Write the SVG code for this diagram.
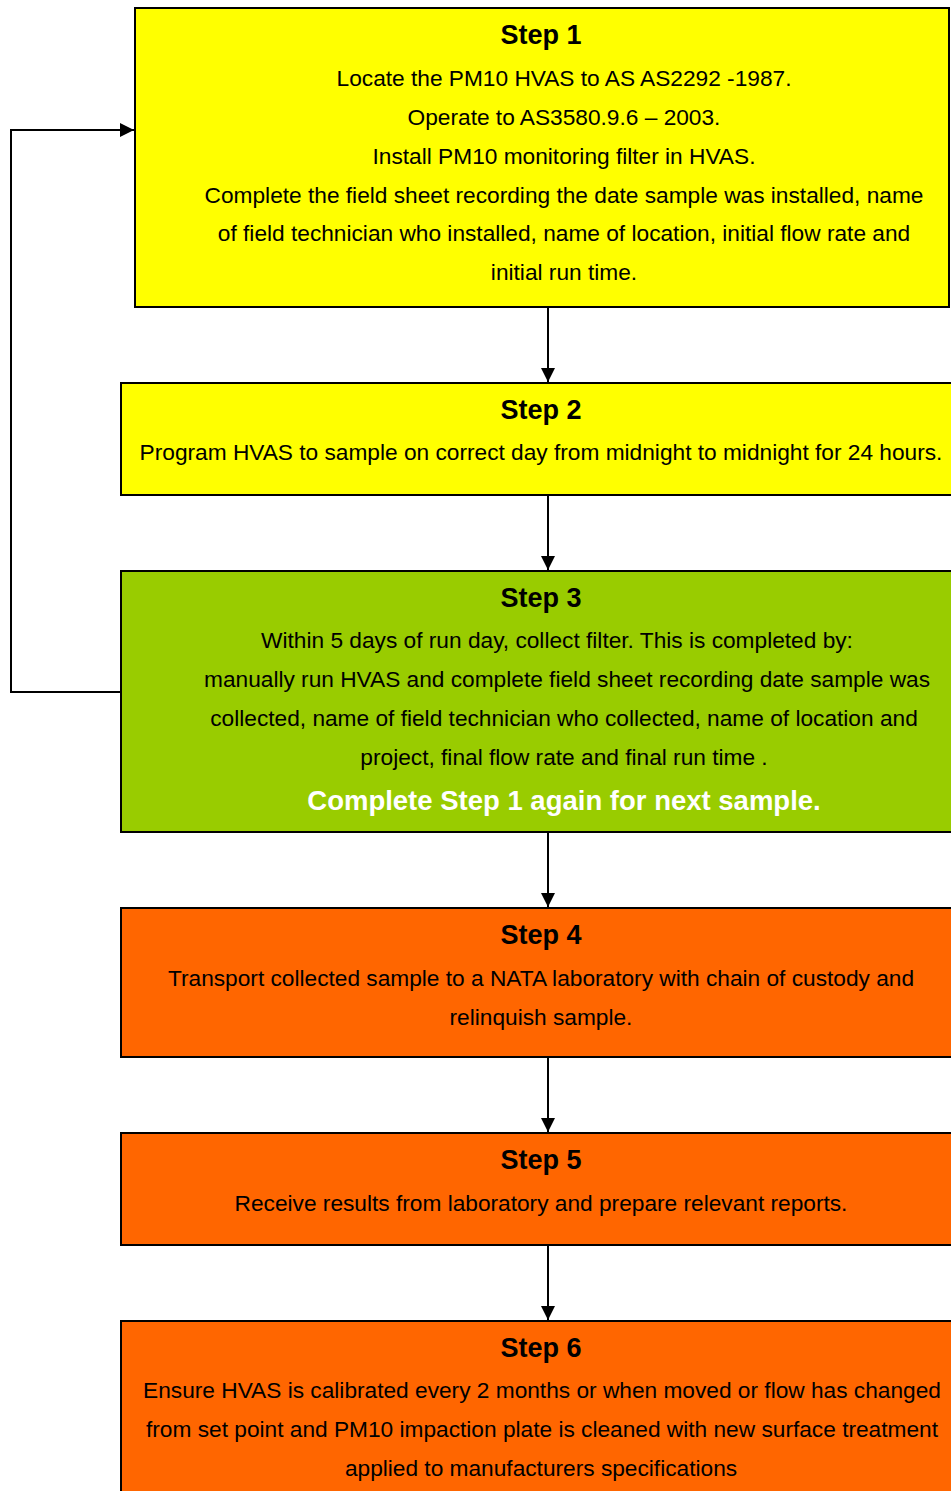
<svg xmlns="http://www.w3.org/2000/svg" width="951" height="1491" viewBox="0 0 951 1491">
<defs>
<marker id="ah" viewBox="0 0 14 14" refX="14" refY="7" markerWidth="14" markerHeight="14" markerUnits="userSpaceOnUse" orient="auto">
<path d="M0,0 L14,7 L0,14 Z" fill="#000"/>
</marker>
<style>
.box{stroke:#000;stroke-width:2}
.y{fill:#FFFF00}.g{fill:#99CC00}.o{fill:#FF6600}
.t{font-family:"Liberation Sans",Arial,sans-serif;font-size:27px;font-weight:bold;fill:#000;text-anchor:middle}
.b{font-family:"Liberation Sans",Arial,sans-serif;font-size:22.7px;fill:#000;text-anchor:middle}
.w{font-family:"Liberation Sans",Arial,sans-serif;font-size:27.5px;font-weight:bold;fill:#fff;text-anchor:middle}
.c{fill:none;stroke:#000;stroke-width:2}
</style>
</defs>
<rect width="951" height="1491" fill="#fff"/>
<g id="connectors">
<line class="c" x1="548" y1="308" x2="548" y2="382" marker-end="url(#ah)"/>
<line class="c" x1="548" y1="496" x2="548" y2="570" marker-end="url(#ah)"/>
<line class="c" x1="548" y1="833" x2="548" y2="907" marker-end="url(#ah)"/>
<line class="c" x1="548" y1="1058" x2="548" y2="1132" marker-end="url(#ah)"/>
<line class="c" x1="548" y1="1246" x2="548" y2="1320" marker-end="url(#ah)"/>
<polyline class="c" points="121,692 11,692 11,130 134,130" marker-end="url(#ah)"/>
</g>
<g id="step1">
<rect class="box y" x="135" y="8" width="814" height="299"/>
<text class="t" x="541" y="44">Step 1</text>
<text class="b" x="564" y="86">Locate the PM10 HVAS to AS AS2292 -1987.</text>
<text class="b" x="564" y="125">Operate to AS3580.9.6 – 2003.</text>
<text class="b" x="564" y="164">Install PM10 monitoring filter in HVAS.</text>
<text class="b" x="564" y="203">Complete the field sheet recording the date sample was installed, name</text>
<text class="b" x="564" y="241">of field technician who installed, name of location, initial flow rate and</text>
<text class="b" x="564" y="280">initial run time.</text>
</g>
<g id="step2">
<rect class="box y" x="121" y="383" width="840" height="112"/>
<text class="t" x="541" y="419">Step 2</text>
<text class="b" x="541" y="460">Program HVAS to sample on correct day from midnight to midnight for 24 hours.</text>
</g>
<g id="step3">
<rect class="box g" x="121" y="571" width="840" height="261"/>
<text class="t" x="541" y="607">Step 3</text>
<text class="b" x="557" y="648">Within 5 days of run day, collect filter. This is completed by:</text>
<text class="b" x="567" y="687">manually run HVAS and complete field sheet recording date sample was</text>
<text class="b" x="564" y="726">collected, name of field technician who collected, name of location and</text>
<text class="b" x="564" y="765">project, final flow rate and final run time .</text>
<text class="w" x="564" y="810">Complete Step 1 again for next sample.</text>
</g>
<g id="step4">
<rect class="box o" x="121" y="908" width="840" height="149"/>
<text class="t" x="541" y="944">Step 4</text>
<text class="b" x="541" y="986">Transport collected sample to a NATA laboratory with chain of custody and</text>
<text class="b" x="541" y="1025">relinquish sample.</text>
</g>
<g id="step5">
<rect class="box o" x="121" y="1133" width="840" height="112"/>
<text class="t" x="541" y="1169">Step 5</text>
<text class="b" x="541" y="1211">Receive results from laboratory and prepare relevant reports.</text>
</g>
<g id="step6">
<rect class="box o" x="121" y="1321" width="840" height="190"/>
<text class="t" x="541" y="1357">Step 6</text>
<text class="b" x="542" y="1398">Ensure HVAS is calibrated every 2 months or when moved or flow has changed</text>
<text class="b" x="542" y="1437">from set point and PM10 impaction plate is cleaned with new surface treatment</text>
<text class="b" x="541" y="1476">applied to manufacturers specifications</text>
</g>
</svg>
